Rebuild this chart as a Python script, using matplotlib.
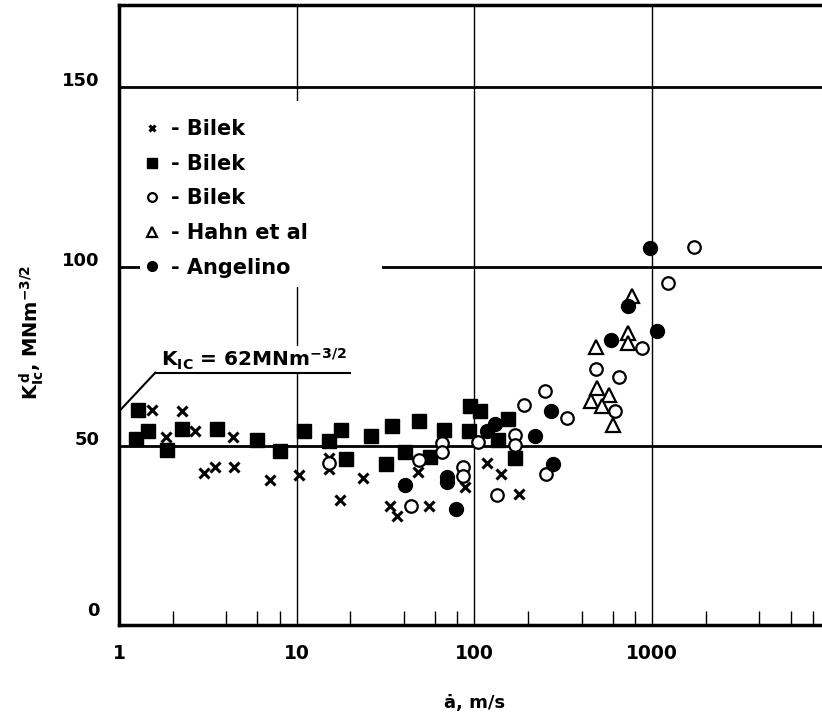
import matplotlib
matplotlib.use("Agg")
from matplotlib import pyplot as plt
from matplotlib.patches import Rectangle
from matplotlib.ticker import FixedLocator, NullFormatter
import matplotlib.transforms as mtransforms

# crosses - Bilek
cross_x = [1.53, 2.27, 1.84, 2.68, 4.4, 3.01, 3.47, 4.46, 7.09, 10.3, 15.1, 15.1,
           17.4, 23.5, 33.6, 36.7, 55.3, 47.9, 88, 117, 141, 179]
cross_y = [60, 59.6, 52.4, 54, 52.4, 42.4, 44.2, 44, 40.5, 41.9, 46.5, 43.5,
           34.9, 41, 33.2, 30.4, 33.2, 42.8, 38.6, 45.3, 42.2, 36.6]

# filled squares - Bilek
sq_x = [1.28, 1.24, 1.46, 1.87, 2.27, 3.55, 5.97, 8.07, 11.0, 15.1, 17.7, 18.9,
        26.2, 34.4, 31.8, 49, 40.9, 56.5, 67.2, 94, 108, 93, 154, 136, 170]
sq_y = [60, 51.9, 54.2, 48.9, 54.7, 54.7, 51.7, 48.6, 54, 51.4, 54.5, 46.4,
        52.8, 55.4, 45, 56.8, 48.4, 46.8, 54.5, 61.2, 59.6, 54, 57.4, 51.7, 46.5]

# open circles - Bilek
oc_x = [15.1, 44, 48.5, 66, 66, 86, 86, 105, 134, 169, 170, 191, 248, 251, 333,
        485, 615, 650, 873, 1234, 1721]
oc_y = [45.1, 33.2, 46.1, 50.9, 48.2, 44.2, 41.6, 51, 36.3, 53, 50.1, 61.3, 65.2,
        42.2, 57.7, 71.5, 59.8, 69.3, 77.3, 95.4, 105.5]

# triangles - Hahn et al
tri_x = [767, 731, 731, 485, 491, 571, 451, 524, 601]
tri_y = [91.9, 81.5, 78.7, 77.7, 66.1, 64.2, 62.6, 61.2, 55.7]

# filled circles - Angelino
ang_x = [40.9, 70, 70, 79, 117, 130, 219, 268, 277, 584, 734, 972, 1070]
ang_y = [39.1, 41.4, 40, 32.5, 54, 56.1, 52.6, 59.6, 45, 79.4, 89.1, 105.2, 82.1]

fig = plt.figure(figsize=(8.22, 7.21), dpi=100)
ax = fig.add_axes([0.14477, 0.13315, 0.86496, 0.85992])
ax.set_xscale("log")
ax.set_xlim(1, 10000)
ax.set_ylim(0, 173)

for s in ax.spines.values():
    s.set_linewidth(2.5)

# grid
for yv in [50, 100, 150]:
    ax.axhline(yv, color="black", lw=2, zorder=1)
for xv in [10, 100, 1000]:
    ax.axvline(xv, color="black", lw=1, zorder=1)

# white area behind the legend
ax.add_patch(Rectangle((0.0295, 0.545), 0.34, 0.30, transform=ax.transAxes,
                       facecolor="white", edgecolor="none", zorder=2))

ax.plot(cross_x, cross_y, "x", color="black", ms=6.5, mew=2.2, zorder=3, label="- Bilek")
ax.plot(sq_x, sq_y, "s", color="black", ms=10, zorder=3, label="- Bilek")
ax.plot(oc_x, oc_y, "o", mfc="white", mec="black", ms=9, mew=1.6, zorder=3, label="- Bilek")
ax.plot(tri_x, tri_y, "^", mfc="white", mec="black", ms=10, mew=1.6, zorder=3, label="- Hahn et al")
ax.plot(ang_x, ang_y, "o", color="black", ms=10, zorder=3, label="- Angelino")

leg = ax.legend(loc="upper left", bbox_to_anchor=(0.008, 0.846), frameon=False,
                markerscale=0.7, handlelength=0.8, handletextpad=0.5,
                labelspacing=0.7, prop={"size": 15, "weight": "bold"})

# K_IC annotation
ax.text(1.72, 72.0, r"$\mathregular{K_{IC}}$ = 62MNm$^{\mathregular{-3/2}}$", fontsize=14.5,
        fontweight="bold", va="baseline", ha="left", zorder=4,
        bbox=dict(facecolor="white", edgecolor="none", pad=1))
ax.plot([1.6, 20], [70.4, 70.4], color="black", lw=1.5, zorder=4)
ax.plot([1, 1.6], [59.6, 70.4], color="black", lw=1.5, zorder=4)

# ticks
ax.xaxis.set_major_locator(FixedLocator([1, 10, 100, 1000]))
ax.set_xticklabels(["1", "10", "100", "1000"])
minors = [m * 10 ** e for e in range(4) for m in (2, 4, 6, 8)]
ax.xaxis.set_minor_locator(FixedLocator(minors))
ax.xaxis.set_minor_formatter(NullFormatter())
ax.tick_params(axis="x", which="minor", direction="in", length=10, width=1)
ax.tick_params(axis="x", which="major", length=0, pad=14, labelsize=13.5)
ax.set_yticks([0, 50, 100, 150])
ax.tick_params(axis="y", length=0, pad=14, labelsize=13)
for lab in ax.get_xticklabels() + ax.get_yticklabels():
    lab.set_fontweight("bold")
ylabs = ax.get_yticklabels()
for i, lab in enumerate(ylabs):
    dy = 0.16 if i == 0 else 0.08
    lab.set_transform(lab.get_transform() + mtransforms.ScaledTranslation(0, dy, fig.dpi_scale_trans))

ax.set_xlabel("ȧ, m/s", fontsize=13, fontweight="bold", labelpad=22)
fig.text(32 / 822, 1 - 332 / 721,
         r"$\mathregular{K^{\,d}_{Ic}}$, MNm$^{\mathregular{-3/2}}$",
         rotation=90, fontsize=14, fontweight="bold", ha="center", va="center")

fig.savefig("out.png", dpi=100)
